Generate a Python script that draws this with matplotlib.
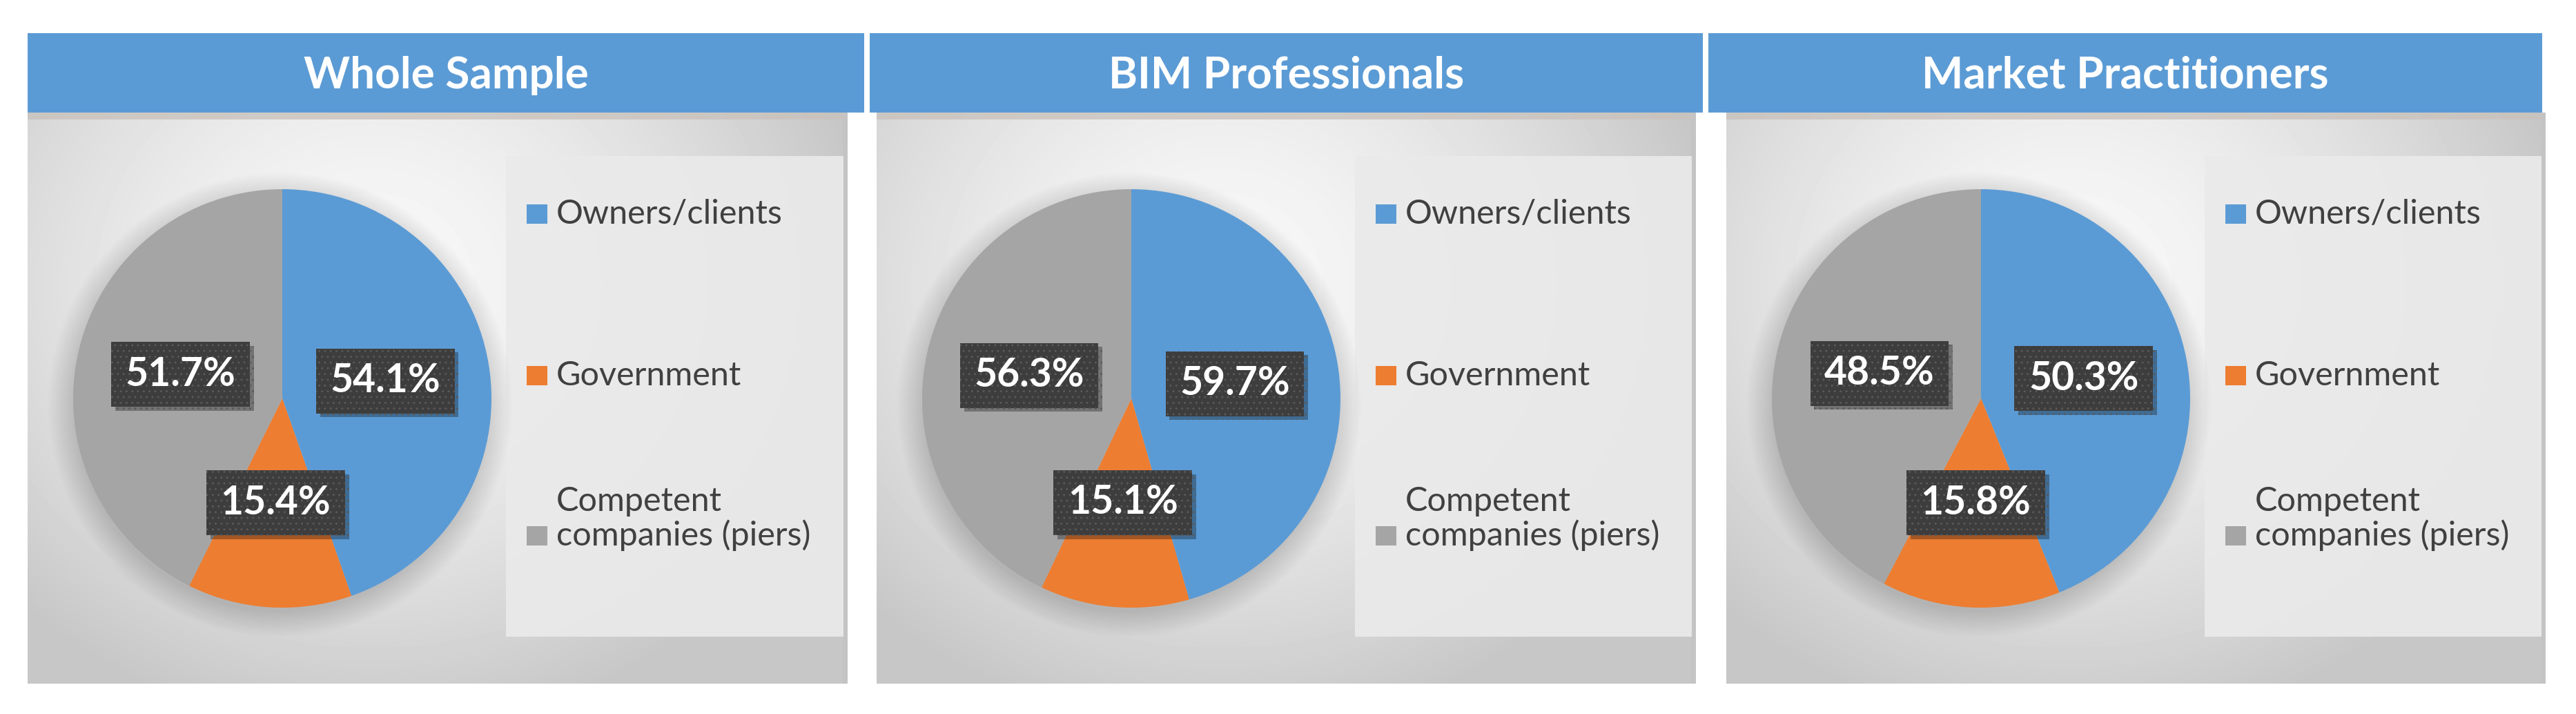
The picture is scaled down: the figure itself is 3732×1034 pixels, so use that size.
import numpy as np
import matplotlib
matplotlib.use("Agg")
import matplotlib.pyplot as plt
from matplotlib.patches import Rectangle, Circle
import matplotlib.patheffects as pe

# ---------------- data ----------------
panel_titles = ["Whole Sample", "BIM Professionals", "Market Practitioners"]
categories = ["Owners/clients", "Government", "Competent companies (piers)"]
legend_labels = ["Owners/clients", "Government", "Competent\ncompanies (piers)"]
whole_sample = [54.1, 15.4, 51.7]
bim_professionals = [59.7, 15.1, 56.3]
market_practitioners = [50.3, 15.8, 48.5]
series = [whole_sample, bim_professionals, market_practitioners]
colors = ["#5B9BD5", "#ED7D31", "#A5A5A5"]

# ---------------- layout (pixels) ----------------
W, H = 3732, 1034
DPI = 100
fig = plt.figure(figsize=(W / DPI, H / DPI), dpi=DPI)
fig.patch.set_facecolor("white")

headers_x = [(40, 1252), (1260, 2467), (2475, 3683)]
bodies_x = [(40, 1228), (1270, 2457), (2501, 3688)]
head_top, head_bot = 48, 163
body_top, body_bot = 163, 990
pie_cx_off, pie_cy = 369, 577
pie_r = 303
FONT = "Lato"


def fx(x):
    return x / W


def fy(y):
    return 1 - y / H


# background gradient for a body
ny, nx = 220, 320
yy, xx = np.mgrid[0:1:ny * 1j, 0:1:nx * 1j]
dist = np.sqrt(((xx - 0.42) / 0.62) ** 2 + ((yy - 0.30) / 0.80) ** 2)
grad = np.clip(0.975 - 0.20 * dist ** 1.5, 0.78, 0.975)

for i in range(3):
    hx0, hx1 = headers_x[i]
    bx0, bx1 = bodies_x[i]
    bw, bh = bx1 - bx0, body_bot - body_top

    # header bar
    fig.add_artist(Rectangle((fx(hx0), fy(head_bot)), fx(hx1 - hx0), (head_bot - head_top) / H,
                             transform=fig.transFigure, facecolor="#5B9BD5", edgecolor="none",
                             zorder=1))
    fig.text(fx((hx0 + hx1) / 2), fy((head_top + head_bot) / 2 + 4), panel_titles[i],
             ha="center", va="center", color="white", fontsize=46, fontweight="bold",
             family=FONT, zorder=3)

    # body background
    axb = fig.add_axes([fx(bx0), fy(body_bot), bw / W, bh / H])
    axb.imshow(grad, cmap="gray", vmin=0, vmax=1, extent=[0, bw, bh, 0], aspect="auto",
               interpolation="bilinear")
    axb.set_xlim(0, bw)
    axb.set_ylim(bh, 0)
    axb.axis("off")
    # top shadow band under header
    axb.add_patch(Rectangle((0, 0), bw, 10, facecolor="#c9c2bc", edgecolor="none", alpha=0.8))
    # right edge darker
    axb.add_patch(Rectangle((bw - 7, 0), 7, bh, facecolor="#c4c4c4", edgecolor="none"))

    # legend box
    lx0, ly0, ly1 = 693, 226 - body_top, 922 - body_top
    axb.add_patch(Rectangle((lx0, ly0), bw - 6 - lx0, ly1 - ly0, facecolor="#eaeaea",
                            edgecolor="none", alpha=0.92))
    baselines = [324 - body_top, 558 - body_top, 790 - body_top]
    for k, lab in enumerate(legend_labels):
        axb.add_patch(Rectangle((723, baselines[k] - 28), 30, 28, facecolor=colors[k],
                                edgecolor="none"))
        axb.text(766, baselines[k], lab, ha="left", va="baseline", fontsize=35,
                 family=FONT, color="#404040", linespacing=1.12)

    # pie
    ext = 1.25
    side = 2 * pie_r * ext
    cx = bx0 + pie_cx_off
    axp = fig.add_axes([fx(cx - side / 2), fy(pie_cy + side / 2), side / W, side / H])
    axp.set_xlim(-ext, ext)
    axp.set_ylim(-ext, ext)
    axp.set_aspect("equal")
    axp.axis("off")
    # soft diffuse shadow
    for s in range(18):
        axp.add_patch(Circle((-0.01, -0.03), 0.99 + 0.007 * s, facecolor="black",
                             edgecolor="none", alpha=0.009, zorder=0))

    vals = series[i]
    total = sum(vals)

    def make_fmt(tot):
        return lambda p: f"{p * tot / 100:.1f}%"

    wedges, _, autotexts = axp.pie(vals, colors=colors, startangle=90, counterclock=False,
                                   autopct=make_fmt(total), pctdistance=0.5, radius=1.0,
                                   wedgeprops=dict(linewidth=0),
                                   textprops=dict(color="white", fontsize=41,
                                                  fontweight="bold", family=FONT))
    axp.set_xlim(-ext, ext)
    axp.set_ylim(-ext, ext)
    for t in autotexts:
        t.set_bbox(dict(boxstyle="square,pad=0.36", facecolor="#3d3d3d", edgecolor="#595959",
                        linewidth=0, hatch=".."))
        t.get_bbox_patch().set_path_effects([
            pe.withSimplePatchShadow(offset=(4, -4), shadow_rgbFace="black", alpha=0.3)])

fig.savefig("out.png", dpi=DPI, facecolor="white")
